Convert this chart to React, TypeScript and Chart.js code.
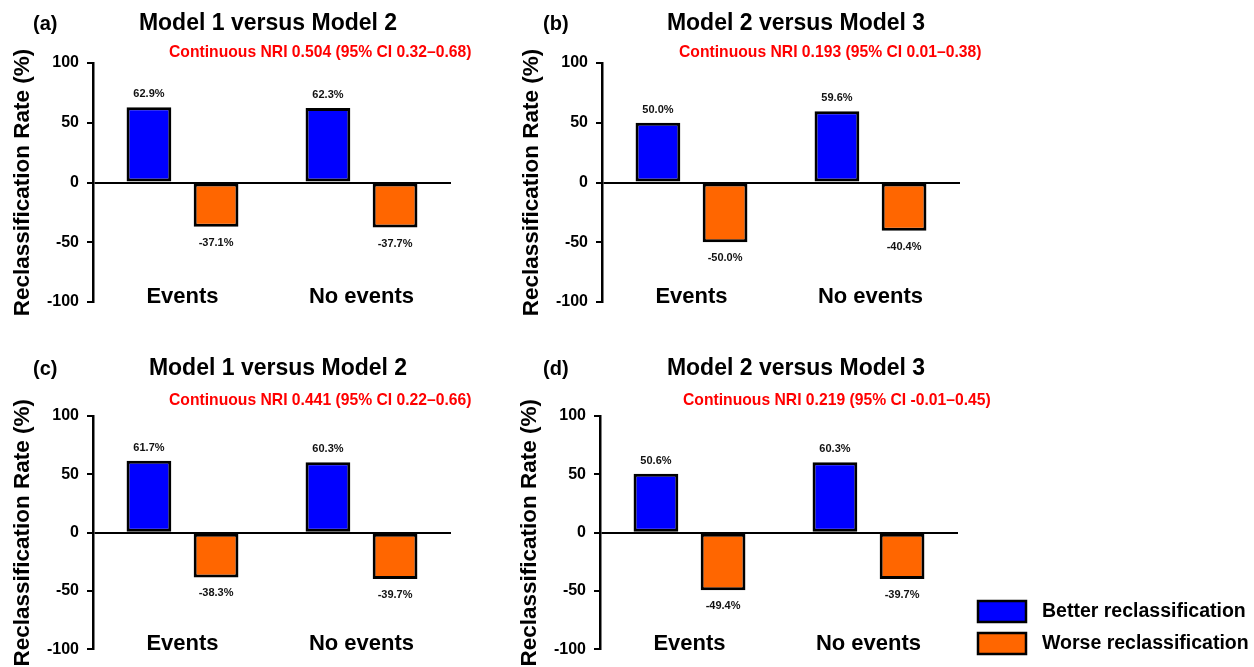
import React, { useEffect, useRef } from "react";
import { Chart, registerables } from "chart.js";

Chart.register(...registerables);

const FONT = '"Liberation Sans", Arial, Helvetica, sans-serif';

// ---------- data ----------
const categories = ["Events", "No events"];
const seriesNames = ["Better reclassification", "Worse reclassification"];
const yTicks = [-100, -50, 0, 50, 100];

const betterA = [62.9, 62.3];
const worseA = [-37.1, -37.7];
const betterB = [50.0, 59.6];
const worseB = [-50.0, -40.4];
const betterC = [61.7, 60.3];
const worseC = [-38.3, -39.7];
const betterD = [50.6, 60.3];
const worseD = [-49.4, -39.7];

const panelLabels = ["(a)", "(b)", "(c)", "(d)"];
const panelTitles = [
  "Model 1 versus Model 2",
  "Model 2 versus Model 3",
  "Model 1 versus Model 2",
  "Model 2 versus Model 3",
];
const nriTexts = [
  "Continuous NRI 0.504 (95% CI 0.32–0.68)",
  "Continuous NRI 0.193 (95% CI 0.01–0.38)",
  "Continuous NRI 0.441 (95% CI 0.22–0.66)",
  "Continuous NRI 0.219 (95% CI -0.01–0.45)",
];
const yAxisTitle = "Reclassification Rate (%)";

const BLUE = "#0000ff";
const ORANGE = "#ff6600";

type PanelCfg = {
  left: number;
  top: number;
  width: number;
  height: number;
  padTop: number;
  padRight: number;
  padBottom: number;
  label: string;
  labelX: number;
  title: string;
  titleX: number;
  titleY: number;
  nri: string;
  nriX: number;
  nriY: number;
  better: number[];
  worse: number[];
  legend?: { boxX: number; boxY: number[]; textX: number };
};

const panels: PanelCfg[] = [
  {
    left: 0, top: 0, width: 500, height: 330,
    padTop: 63, padRight: 49, padBottom: 28,
    label: panelLabels[0], labelX: 33,
    title: panelTitles[0], titleX: 268, titleY: 24,
    nri: nriTexts[0], nriX: 169, nriY: 53,
    better: betterA, worse: worseA,
  },
  {
    left: 509, top: 0, width: 500, height: 330,
    padTop: 63, padRight: 49, padBottom: 28,
    label: panelLabels[1], labelX: 34,
    title: panelTitles[1], titleX: 287, titleY: 24,
    nri: nriTexts[1], nriX: 170, nriY: 53,
    better: betterB, worse: worseB,
  },
  {
    left: 0, top: 330, width: 500, height: 337,
    padTop: 86, padRight: 49, padBottom: 14,
    label: panelLabels[2], labelX: 33,
    title: panelTitles[2], titleX: 278, titleY: 39,
    nri: nriTexts[2], nriX: 169, nriY: 71,
    better: betterC, worse: worseC,
  },
  {
    left: 507, top: 330, width: 747, height: 337,
    padTop: 86, padRight: 296, padBottom: 14,
    label: panelLabels[3], labelX: 36,
    title: panelTitles[3], titleX: 289, titleY: 39,
    nri: nriTexts[3], nriX: 176, nriY: 71,
    better: betterD, worse: worseD,
    legend: { boxX: 471, boxY: [271, 303], textX: 535 },
  },
];

function makeAnnotPlugin(cfg: PanelCfg) {
  return {
    id: "annot",
    afterDraw(chart: any) {
      const ctx = chart.ctx as CanvasRenderingContext2D;
      const xs = chart.scales.x;
      const ys = chart.scales.y;
      ctx.save();
      ctx.textBaseline = "middle";
      // panel label
      ctx.fillStyle = "#000";
      ctx.font = `bold 20px ${FONT}`;
      ctx.textAlign = "left";
      ctx.fillText(cfg.label, cfg.labelX, cfg.titleY);
      // title
      ctx.font = `bold 23px ${FONT}`;
      ctx.textAlign = "center";
      ctx.fillText(cfg.title, cfg.titleX, cfg.titleY);
      // NRI
      ctx.fillStyle = "#ff0000";
      ctx.font = `bold 15.7px ${FONT}`;
      ctx.textAlign = "left";
      ctx.fillText(cfg.nri, cfg.nriX, cfg.nriY);
      // category labels
      ctx.fillStyle = "#000";
      ctx.font = `bold 22px ${FONT}`;
      ctx.textAlign = "center";
      (chart.data.labels as string[]).forEach((l, i) => {
        ctx.fillText(l, xs.getPixelForValue(i), ys.getPixelForValue(ys.min) - 5);
      });
      // value labels
      ctx.font = `bold 11px ${FONT}`;
      ctx.fillStyle = "#111";
      chart.data.datasets.forEach((ds: any, di: number) => {
        const meta = chart.getDatasetMeta(di);
        meta.data.forEach((el: any, i: number) => {
          const v = ds.data[i] as number;
          const y = v >= 0 ? el.y - 13 : el.y + 16;
          ctx.fillText(v.toFixed(1) + "%", el.x, y);
        });
      });
      // legend
      if (cfg.legend) {
        const lg = cfg.legend;
        chart.data.datasets.forEach((ds: any, di: number) => {
          const by = lg.boxY[di];
          ctx.fillStyle = ds.backgroundColor;
          ctx.fillRect(lg.boxX, by, 48, 21);
          ctx.strokeStyle = "#000";
          ctx.lineWidth = 2.5;
          ctx.strokeRect(lg.boxX, by, 48, 21);
          ctx.fillStyle = "#000";
          ctx.font = `bold 19.5px ${FONT}`;
          ctx.textAlign = "left";
          ctx.fillText(ds.label, lg.textX, by + 11);
        });
      }
      ctx.restore();
    },
  };
}

function Panel({ cfg }: { cfg: PanelCfg }) {
  const ref = useRef<HTMLCanvasElement | null>(null);
  useEffect(() => {
    if (!ref.current) return;
    const chart = new Chart(ref.current, {
      type: "bar",
      data: {
        labels: categories,
        datasets: [
          {
            label: seriesNames[0],
            data: cfg.better,
            backgroundColor: BLUE,
            borderColor: "#000",
            borderWidth: 3,
            borderSkipped: false,
            categoryPercentage: 0.75,
            barPercentage: 0.667,
          },
          {
            label: seriesNames[1],
            data: cfg.worse,
            backgroundColor: ORANGE,
            borderColor: "#000",
            borderWidth: 3,
            borderSkipped: false,
            categoryPercentage: 0.75,
            barPercentage: 0.667,
          },
        ],
      },
      options: {
        responsive: false,
        animation: false,
        devicePixelRatio: 1,
        layout: {
          padding: { left: 0, top: cfg.padTop, right: cfg.padRight, bottom: cfg.padBottom },
        },
        plugins: {
          legend: { display: false },
          title: { display: false },
          tooltip: { enabled: false },
        },
        scales: {
          x: {
            display: false,
            offset: true,
            grid: { display: false },
          },
          y: {
            min: yTicks[0],
            max: yTicks[yTicks.length - 1],
            afterFit: (scale: any) => {
              scale.width = 93;
            },
            ticks: {
              stepSize: yTicks[1] - yTicks[0],
              color: "#000",
              padding: 8,
              font: { family: FONT, size: 16, weight: "bold" },
            },
            border: { display: true, color: "#000", width: 2.5 },
            grid: {
              drawOnChartArea: true,
              drawTicks: true,
              tickLength: 6,
              tickColor: "#000",
              tickWidth: 2,
              lineWidth: 2,
              color: (c: any) => (c.tick && c.tick.value === 0 ? "#000" : "rgba(0,0,0,0)"),
            },
            title: {
              display: true,
              text: yAxisTitle,
              color: "#000",
              padding: { top: 9, bottom: 0 },
              font: { family: FONT, size: 22.5, weight: "bold" },
            },
          },
        },
      },
      plugins: [makeAnnotPlugin(cfg)],
    });
    return () => chart.destroy();
  }, [cfg]);
  return (
    <div
      style={{
        position: "absolute",
        left: cfg.left,
        top: cfg.top,
        width: cfg.width,
        height: cfg.height,
      }}
    >
      <canvas ref={ref} width={cfg.width} height={cfg.height} style={{ display: "block" }} />
    </div>
  );
}

export default function App() {
  return (
    <div
      style={{
        position: "absolute",
        left: 0,
        top: 0,
        width: 1254,
        height: 667,
        background: "#fff",
        overflow: "hidden",
      }}
    >
      {panels.map((p, i) => (
        <Panel key={i} cfg={p} />
      ))}
    </div>
  );
}
